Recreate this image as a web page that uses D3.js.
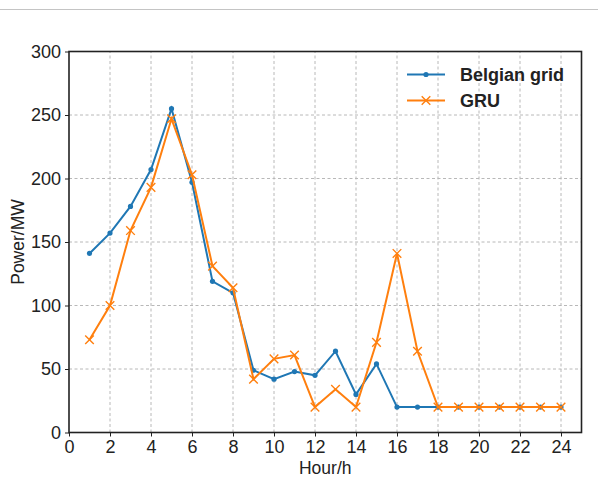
<!DOCTYPE html>
<html>
<head>
<meta charset="utf-8">
<script src="https://cdn.jsdelivr.net/npm/d3@7"></script>
<style>
  body { margin: 0; background: #fff; }
  svg text { font-family: "Liberation Sans", Arial, Helvetica, sans-serif; fill: #222; }
</style>
</head>
<body>
<div id="chart"></div>
<script>
// hours 1..24
var hours = [1, 2, 3, 4, 5, 6, 7, 8, 9, 10, 11, 12, 13, 14, 15, 16, 17, 18, 19, 20, 21, 22, 23, 24];
var belgianGrid = [141, 157, 178, 207, 255, 197, 119, 110, 49, 42, 48, 45, 64, 30, 54, 20, 20, 20, 20, 20, 20, 20, 20, 20];
var gru = [73, 100, 159, 193, 247, 203, 131, 114, 42, 58, 61, 20, 34, 20, 71, 141, 64, 20, 20, 20, 20, 20, 20, 20];
var xTicks = [0, 2, 4, 6, 8, 10, 12, 14, 16, 18, 20, 22, 24];
var yTicks = [0, 50, 100, 150, 200, 250, 300];

var width = 598,
    height = 477,
    margin = {top: 51.5, right: 16.5, bottom: 44.5, left: 69};

var svg = d3.select("#chart").append("svg")
    .attr("width", width)
    .attr("height", height);

// thin rule on top of the figure
svg.append("line")
    .attr("x1", 0).attr("x2", width)
    .attr("y1", 9.5).attr("y2", 9.5)
    .attr("stroke", "#c4c4c4")
    .attr("stroke-width", 1);

var x = d3.scaleLinear().domain([0, 25]).range([margin.left, width - margin.right]);
var y = d3.scaleLinear().domain([0, 300]).range([height - margin.bottom, margin.top]);

// grid
svg.append("g").selectAll("line")
    .data(xTicks.slice(1))
  .enter().append("line")
    .attr("x1", d => x(d)).attr("x2", d => x(d))
    .attr("y1", y(0)).attr("y2", y(300))
    .attr("stroke", "#b8b8b8")
    .attr("stroke-dasharray", "3,2.5");

svg.append("g").selectAll("line")
    .data(yTicks.slice(1, -1))
  .enter().append("line")
    .attr("x1", x(0)).attr("x2", x(25))
    .attr("y1", d => y(d)).attr("y2", d => y(d))
    .attr("stroke", "#b8b8b8")
    .attr("stroke-dasharray", "3,2.5");

// axes
var xAxis = svg.append("g")
    .attr("transform", "translate(0," + y(0) + ")")
    .call(d3.axisBottom(x).tickValues(xTicks).tickSize(4).tickPadding(4));

var yAxis = svg.append("g")
    .attr("transform", "translate(" + x(0) + ",0)")
    .call(d3.axisLeft(y).tickValues(yTicks).tickSize(4).tickPadding(4));

[xAxis, yAxis].forEach(function(a) {
  a.select(".domain").remove();
  a.selectAll("text").attr("font-size", 18).attr("fill", "#222")
    .style("font-family", '"Liberation Sans", Arial, sans-serif');
  a.selectAll("line").attr("stroke", "#222");
});

// frame
svg.append("rect")
    .attr("x", x(0)).attr("y", y(300))
    .attr("width", x(25) - x(0)).attr("height", y(0) - y(300))
    .attr("fill", "none")
    .attr("stroke", "#222")
    .attr("stroke-width", 1.6);

// axis labels
svg.append("text")
    .attr("x", (x(0) + x(25)) / 2)
    .attr("y", 474)
    .attr("text-anchor", "middle")
    .attr("font-size", 17.5)
    .text("Hour/h");

svg.append("text")
    .attr("transform", "translate(24," + (y(150)) + ") rotate(-90)")
    .attr("text-anchor", "middle")
    .attr("font-size", 17.5)
    .text("Power/MW");

var line = d3.line()
    .x((d, i) => x(hours[i]))
    .y(d => y(d));

var blue = "#1f77b4", orange = "#ff7f0e";

// Belgian grid
svg.append("path")
    .datum(belgianGrid)
    .attr("d", line)
    .attr("fill", "none")
    .attr("stroke", blue)
    .attr("stroke-width", 2);

svg.append("g").selectAll("circle")
    .data(belgianGrid)
  .enter().append("circle")
    .attr("cx", (d, i) => x(hours[i]))
    .attr("cy", d => y(d))
    .attr("r", 2.6)
    .attr("fill", blue);

// GRU
svg.append("path")
    .datum(gru)
    .attr("d", line)
    .attr("fill", "none")
    .attr("stroke", orange)
    .attr("stroke-width", 2);

var cross = d3.symbol().type(d3.symbolX).size(50);

svg.append("g").selectAll("path")
    .data(gru)
  .enter().append("path")
    .attr("transform", (d, i) => "translate(" + x(hours[i]) + "," + y(d) + ")")
    .attr("d", cross)
    .attr("fill", "none")
    .attr("stroke", orange)
    .attr("stroke-width", 1.4);

// legend
var legend = svg.append("g").attr("transform", "translate(407,0)");
var items = [{name: "Belgian grid", color: blue, y: 74.5}, {name: "GRU", color: orange, y: 100.5}];

items.forEach(function(it, k) {
  legend.append("line")
      .attr("x1", 0).attr("x2", 38)
      .attr("y1", it.y).attr("y2", it.y)
      .attr("stroke", it.color)
      .attr("stroke-width", 2);
  if (k === 0) {
    legend.append("circle").attr("cx", 19).attr("cy", it.y).attr("r", 2.6).attr("fill", it.color);
  } else {
    legend.append("path")
        .attr("transform", "translate(19," + it.y + ")")
        .attr("d", cross)
        .attr("fill", "none")
        .attr("stroke", it.color)
        .attr("stroke-width", 1.4);
  }
  legend.append("text")
      .attr("x", 53)
      .attr("y", it.y + 6.5)
      .attr("font-size", 18)
      .attr("font-weight", "bold")
      .attr("fill", "#111")
      .text(it.name);
});
</script>
</body>
</html>
